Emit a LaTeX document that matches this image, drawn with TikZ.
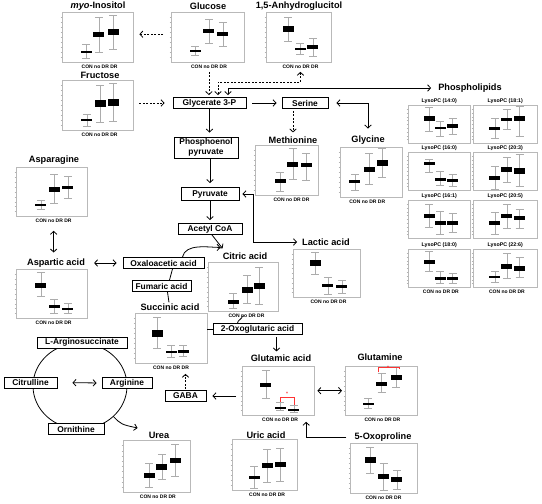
\documentclass[tikz,border=0pt]{standalone}
\usepackage{fontspec}
\setmainfont{Liberation Sans}
\usetikzlibrary{arrows.meta, positioning, calc}

\tikzset{
  metbox/.style={
    draw, line width=0.9pt, fill=white, align=center,
    inner xsep=3pt, inner ysep=1pt, minimum height=11pt,
    font=\fontsize{8.4}{10}\selectfont\bfseries
  },
  mettitle/.style={inner sep=1pt, font=\fontsize{9.2}{11}\selectfont\bfseries},
  lpctitle/.style={inner sep=0.5pt, font=\fontsize{5.3}{6}\selectfont\bfseries},
  catlabel/.style={anchor=north, inner sep=0pt, yshift=-2.5pt,
    font=\fontsize{5}{6}\selectfont\bfseries},
  plotframe/.style={draw=gray!55, line width=0.4pt, anchor=north west, inner sep=0pt},
  whisker/.style={draw=gray!65, line width=0.45pt},
  axistick/.style={draw=gray!60, line width=0.3pt},
  flowarrow/.style={-{Straight Barb[length=3pt,width=6.5pt]}, line width=0.8pt},
  twowayarrow/.style={{Straight Barb[length=3pt,width=6.5pt]}-{Straight Barb[length=3pt,width=6.5pt]},
    line width=0.8pt},
  dashflow/.style={flowarrow, dash pattern=on 2pt off 1.5pt},
  dashtwoway/.style={twowayarrow, dash pattern=on 2pt off 1.5pt},
  linkline/.style={line width=0.8pt},
  sigline/.style={draw=red!80, line width=0.6pt},
  sigstar/.style={text=red!80, inner sep=0pt, font=\fontsize{5}{5}\selectfont\bfseries},
}

% box-plot panel: name, left, top, width, height, boxes (x/wlo/blo/bhi/whi), extra
\newcommand{\bxpanel}[7]{%
  \node[plotframe, minimum width=#4pt, minimum height=#5pt] (#1) at (#2,#3) {};
  \begin{scope}[shift={(#1.south west)}, x=#4pt, y=#5pt]
    \foreach \tk in {1,...,9} \draw[axistick] ([xshift=-1.5pt]0,\tk/10) -- (0,\tk/10);
    \foreach \bx/\wlo/\blo/\bhi/\whi in {#6} {
      \draw[whisker] (\bx,\wlo) -- (\bx,\whi)
        ([xshift=-4pt]\bx,\wlo) -- ([xshift=4pt]\bx,\wlo)
        ([xshift=-4pt]\bx,\whi) -- ([xshift=4pt]\bx,\whi);
      \fill ([xshift=-5.5pt]\bx,\blo) rectangle ([xshift=5.5pt]\bx,\bhi);
    }
    #7
  \end{scope}
}

\begin{document}
\begin{tikzpicture}[x=1pt, y=-1pt]
  \useasboundingbox (0,0) rectangle (542,504);

  % ── Plot panels ──
  \bxpanel{p-myo}{62}{12}{71}{50}{0.34/0.08/0.18/0.22/0.36, 0.52/0.2/0.5/0.6/0.9, 0.72/0.26/0.54/0.66/0.94}
    {\node[catlabel] (c-myo) at (0.53,0) {CON no DR DR};}
  \bxpanel{p-fructose}{62}{80}{71}{50}{0.35/0.08/0.18/0.22/0.32, 0.54/0.16/0.46/0.6/0.9, 0.72/0.18/0.48/0.62/0.94}
    {\node[catlabel] (c-fructose) at (0.53,0) {CON no DR DR};}
  \bxpanel{p-glucose}{171}{12}{73}{50}{0.33/0.14/0.2/0.24/0.32, 0.52/0.38/0.58/0.66/0.86, 0.71/0.32/0.52/0.6/0.8}
    {\node[catlabel] (c-glucose) at (0.52,0) {CON no DR DR};}
  \bxpanel{p-ag}{266}{12}{65}{50}{0.34/0.42/0.6/0.72/0.9, 0.53/0.16/0.24/0.28/0.38, 0.72/0.12/0.26/0.34/0.48}
    {\node[catlabel] (c-ag) at (0.53,0) {CON no DR DR};}
  \bxpanel{p-methionine}{255}{145}{63}{50}{0.40/0.08/0.24/0.32/0.46, 0.60/0.32/0.56/0.66/0.94, 0.81/0.3/0.56/0.64/0.84}
    {\node[catlabel] (c-methionine) at (0.58,0) {CON no DR DR};}
  \bxpanel{p-glycine}{340}{147}{62}{50}{0.24/0.14/0.28/0.34/0.46, 0.47/0.26/0.5/0.6/0.88, 0.68/0.4/0.62/0.74/0.98}
    {\node[catlabel] (c-glycine) at (0.44,0) {CON no DR DR};}
  \bxpanel{p-lactic}{293}{249}{67}{48}{0.33/0.48/0.65/0.77/0.95, 0.52/0.06/0.21/0.27/0.42, 0.73/0.08/0.19/0.25/0.35}
    {\node[catlabel] (c-lactic) at (0.53,0) {CON no DR DR};}
  \bxpanel{p-asparagine}{16}{167}{71}{49}{0.35/0.14/0.22/0.26/0.33, 0.54/0.27/0.49/0.59/0.86, 0.73/0.37/0.55/0.63/0.82}
    {\node[catlabel] (c-asparagine) at (0.53,0) {CON no DR DR};}
  \bxpanel{p-aspartic}{16}{269}{71}{49}{0.35/0.45/0.63/0.73/0.94, 0.54/0.1/0.22/0.27/0.39, 0.73/0.1/0.18/0.22/0.31}
    {\node[catlabel] (c-aspartic) at (0.53,0) {CON no DR DR};}
  \bxpanel{p-citric}{208}{262}{70}{49}{0.36/0.06/0.16/0.24/0.37, 0.56/0.16/0.37/0.49/0.73, 0.73/0.14/0.45/0.57/0.9}
    {\node[catlabel] (c-citric) at (0.55,0) {CON no DR DR};}
  \bxpanel{p-succinic}{135}{313}{72}{50}{0.31/0.3/0.52/0.66/0.92, 0.5/0.12/0.2/0.24/0.36, 0.67/0.14/0.2/0.26/0.36}
    {\node[catlabel] (c-succinic) at (0.5,0) {CON no DR DR};}
  \bxpanel{p-glutamic}{242}{366}{72}{49}{0.33/0.35/0.57/0.67/0.92, 0.53/0.1/0.14/0.18/0.27, 0.72/0.06/0.1/0.14/0.2}
    {\node[catlabel] (c-glutamic) at (0.53,0) {CON no DR DR};
     \draw[sigline] (0.53,0.27) |- (0.72,0.37) -- (0.72,0.22);
     \node[sigstar] (s-glutamic) at (0.625,0.44) {*};}
  \bxpanel{p-glutamine}{345}{366}{72}{49}{0.32/0.14/0.22/0.26/0.35, 0.51/0.47/0.61/0.69/0.86, 0.71/0.57/0.73/0.82/0.98}
    {\node[catlabel] (c-glutamine) at (0.52,0) {CON no DR DR};
     \draw[sigline] (0.46,0.88) |- (0.75,0.99) -- (0.75,0.95);
     \node[sigstar] (s-glutamine) at (0.6,0.97) {*};}
  \bxpanel{p-oxopro}{350}{443}{67}{50}{0.3/0.4/0.6/0.72/0.92, 0.5/0.06/0.28/0.38/0.6, 0.7/0.08/0.22/0.32/0.46}
    {\node[catlabel] (c-oxopro) at (0.5,0) {CON no DR DR};}
  \bxpanel{p-uric}{232}{439}{65}{51}{0.34/0.04/0.22/0.29/0.47, 0.54/0.16/0.43/0.53/0.8, 0.74/0.18/0.45/0.55/0.82}
    {\node[catlabel] (c-uric) at (0.54,0) {CON no DR DR};}
  \bxpanel{p-urea}{123}{440}{67}{52}{0.39/0.1/0.27/0.37/0.56, 0.58/0.25/0.44/0.54/0.73, 0.78/0.31/0.56/0.67/0.92}
    {\node[catlabel] (c-urea) at (0.52,0) {CON no DR DR};}

  % ── LysoPC panels ──
  \bxpanel{p-lpc140}{408}{105}{62}{38}{0.34/0.33/0.59/0.71/0.96, 0.52/0.19/0.37/0.43/0.59, 0.72/0.24/0.41/0.5/0.65}{}
  \bxpanel{p-lpc181}{473}{105}{64}{38}{0.34/0.13/0.35/0.43/0.65, 0.53/0.37/0.59/0.68/0.91, 0.73/0.19/0.59/0.71/0.97}{}
  \bxpanel{p-lpc160}{408}{152}{62}{38}{0.34/0.48/0.67/0.76/0.83, 0.52/0.13/0.26/0.33/0.5, 0.72/0.1/0.23/0.3/0.43}{}
  \bxpanel{p-lpc203}{473}{152}{64}{38}{0.34/0.04/0.28/0.39/0.63, 0.53/0.22/0.48/0.61/0.87, 0.73/0.1/0.43/0.58/0.94}{}
  \bxpanel{p-lpc161}{408}{200}{62}{38}{0.34/0.3/0.55/0.65/0.9, 0.52/0.11/0.35/0.46/0.71, 0.72/0.15/0.35/0.46/0.65}{}
  \bxpanel{p-lpc205}{473}{200}{64}{38}{0.34/0.11/0.35/0.46/0.7, 0.53/0.28/0.55/0.65/0.91, 0.73/0.26/0.48/0.58/0.78}{}
  \bxpanel{p-lpc180}{408}{249}{62}{38}{0.34/0.42/0.62/0.73/0.96, 0.52/0.1/0.2/0.27/0.42, 0.72/0.1/0.2/0.27/0.37}
    {\node[catlabel] (c-lpc180) at (0.53,0) {CON no DR DR};}
  \bxpanel{p-lpc226}{473}{249}{64}{38}{0.34/0.13/0.24/0.29/0.42, 0.53/0.24/0.49/0.62/0.91, 0.73/0.27/0.42/0.56/0.8}
    {\node[catlabel] (c-lpc226) at (0.53,0) {CON no DR DR};}

  \node[lpctitle, above=1pt of p-lpc140] (t-lpc140) {LysoPC (14:0)};
  \node[lpctitle, above=1pt of p-lpc181] (t-lpc181) {LysoPC (18:1)};
  \node[lpctitle, above=1pt of p-lpc160] (t-lpc160) {LysoPC (16:0)};
  \node[lpctitle, above=1pt of p-lpc203] (t-lpc203) {LysoPC (20:3)};
  \node[lpctitle, above=1pt of p-lpc161] (t-lpc161) {LysoPC (16:1)};
  \node[lpctitle, above=1pt of p-lpc205] (t-lpc205) {LysoPC (20:5)};
  \node[lpctitle, above=1pt of p-lpc180] (t-lpc180) {LysoPC (18:0)};
  \node[lpctitle, above=1pt of p-lpc226] (t-lpc226) {LysoPC (22:6)};

  % ── Titles ──
  \node[mettitle] (t-myo) at (98,6) {\textit{myo}-Inositol};
  \node[mettitle] (t-glucose) at (208,6) {Glucose};
  \node[mettitle] (t-ag) at (299,6) {1,5-Anhydroglucitol};
  \node[mettitle] (t-fructose) at (100,75) {Fructose};
  \node[mettitle] (t-phospho) at (470,88) {Phospholipids};
  \node[mettitle] (t-methionine) at (293,140) {Methionine};
  \node[mettitle] (t-glycine) at (368,140) {Glycine};
  \node[mettitle] (t-asparagine) at (54,160) {Asparagine};
  \node[mettitle] (t-lactic) at (326,242) {Lactic acid};
  \node[mettitle] (t-citric) at (245,256) {Citric acid};
  \node[mettitle] (t-aspartic) at (56,263) {Aspartic acid};
  \node[mettitle] (t-succinic) at (170,307) {Succinic acid};
  \node[mettitle] (t-glutamic) at (281,358) {Glutamic acid};
  \node[mettitle] (t-glutamine) at (380,357) {Glutamine};
  \node[mettitle] (t-urea) at (159,435) {Urea};
  \node[mettitle] (t-uric) at (266,435) {Uric acid};
  \node[mettitle] (t-oxopro) at (383,437) {5-Oxoproline};

  % ── Urea cycle ring ──
  \coordinate (ucc) at (80,386);
  \draw[linkline] (ucc) ellipse [x radius=47, y radius=43];

  % ── Pathway boxes ──
  \node[metbox, minimum width=73pt] (glycerate) at (209.5,103) {Glycerate 3-P};
  \node[metbox, minimum width=46pt] (serine) at (305,103) {Serine};
  \node[metbox, minimum width=64pt, minimum height=21pt] (pep) at (206,147.5) {Phosphoenol\\pyruvate};
  \node[metbox, minimum width=58pt, minimum height=13pt] (pyruvate) at (210,194) {Pyruvate};
  \node[metbox, minimum width=64pt] (acetyl) at (210,229) {Acetyl CoA};
  \node[metbox, minimum width=81pt] (oxalo) at (163.5,263) {Oxaloacetic acid};
  \node[metbox, minimum width=59pt] (fumaric) at (161.5,286) {Fumaric acid};
  \node[metbox, minimum width=89pt] (oxoglut) at (257.5,329) {2-Oxoglutaric acid};
  \node[metbox, minimum width=41pt] (gaba) at (185.5,396) {GABA};
  \node[metbox, minimum width=90pt] (largino) at (82,342.5) {L-Arginosuccinate};
  \node[metbox, minimum width=53pt] (citrulline) at (30.5,382.5) {Citrulline};
  \node[metbox, minimum width=50pt] (arginine) at (127,383) {Arginine};
  \node[metbox, minimum width=56pt] (ornithine) at (76,429) {Ornithine};

  % ── Connectors ──
  \coordinate (agbend) at (218,82);
  \coordinate (plbend) at (228,88);
  \draw[dashflow, shorten <=8pt, shorten >=6pt] ([yshift=3pt]p-glucose.west) -- ([yshift=3pt]p-myo.east);
  \draw[dashflow, shorten <=6pt, shorten >=8pt] (p-fructose.east |- glycerate.west) -- (glycerate.west);
  \draw[dashflow, shorten <=3pt, shorten >=2pt] (c-glucose.south) -- (c-glucose.south |- glycerate.north);
  \draw[dashtwoway, shorten <=3pt, shorten >=2pt] (c-ag.south) |- (agbend) -- (agbend |- glycerate.north);
  \draw[twowayarrow, shorten <=2pt, shorten >=6pt] (plbend |- glycerate.north) -- (plbend) -- (t-phospho.west);
  \draw[flowarrow, shorten <=6pt, shorten >=5pt] (glycerate.east) -- (serine.west);
  \draw[twowayarrow, shorten <=8pt, shorten >=6pt] (serine.east) -| (t-glycine.north);
  \draw[dashflow, shorten <=2pt, shorten >=3pt] (t-methionine.north |- serine.south) -- (t-methionine.north);
  \draw[flowarrow, shorten >=4pt] (glycerate.south) -- (glycerate.south |- pep.north);
  \draw[flowarrow, shorten >=4pt] (pyruvate.north |- pep.south) -- (pyruvate.north);
  \draw[flowarrow, shorten >=3pt] (pyruvate.south) -- (acetyl.north);
  \draw[twowayarrow, shorten <=3pt, shorten >=4pt] (pyruvate.east) -- ++(14,0) |- (t-lactic.west);
  \draw[flowarrow] ([xshift=2pt]acetyl.south) -- ([xshift=1pt, yshift=3pt]t-citric.north west);
  \draw[flowarrow] ([xshift=-22pt]oxalo.north east) .. controls +(3,-14) and +(-12,0) .. ([xshift=-1pt, yshift=4pt]t-citric.north west);
  \draw[linkline] ([xshift=9pt]oxalo.south) -- ([xshift=8pt]fumaric.north);
  \draw[linkline] ([xshift=6pt]fumaric.south) -- ([xshift=-1pt]t-succinic.north);
  \draw[linkline] (p-succinic.east |- oxoglut.west) -- (oxoglut.west);
  \draw[linkline] ([xshift=-20pt]oxoglut.north) .. controls +(0,-3) and +(0,3) .. ([xshift=-4pt]c-citric.center);
  \draw[flowarrow, shorten <=2pt, shorten >=2pt] ([xshift=19pt]oxoglut.south) -- ([xshift=19pt]oxoglut.south |- t-glutamic.north);
  \draw[twowayarrow, shorten <=3pt, shorten >=3pt] (p-glutamic.east) -- (p-glutamine.west);
  \draw[flowarrow, shorten <=6pt, shorten >=6pt] (p-glutamic.west |- gaba.east) -- (gaba.east);
  \draw[dashflow, shorten <=1pt, shorten >=4pt] (gaba.north) -- (gaba.north |- c-succinic.south);
  \draw[flowarrow, shorten <=7pt] (t-oxopro.west) -| ([xshift=26pt]c-glutamic.south);
  \draw[twowayarrow, shorten <=8pt, shorten >=5pt] (c-asparagine.south) -- (c-asparagine.south |- t-aspartic.north);
  \draw[twowayarrow, shorten <=8pt, shorten >=6pt] (t-aspartic.east) -- (oxalo.west);
  \draw[twowayarrow, shorten <=15pt, shorten >=5pt] (citrulline.east) -- (arginine.west);
  \coordinate (ucout) at ($(ucc)+(45:47 and 43)$);
  \draw[flowarrow] (ucout) .. controls +(8,8) .. ([xshift=-10pt, yshift=7pt]t-urea.west);
\end{tikzpicture}
\end{document}
